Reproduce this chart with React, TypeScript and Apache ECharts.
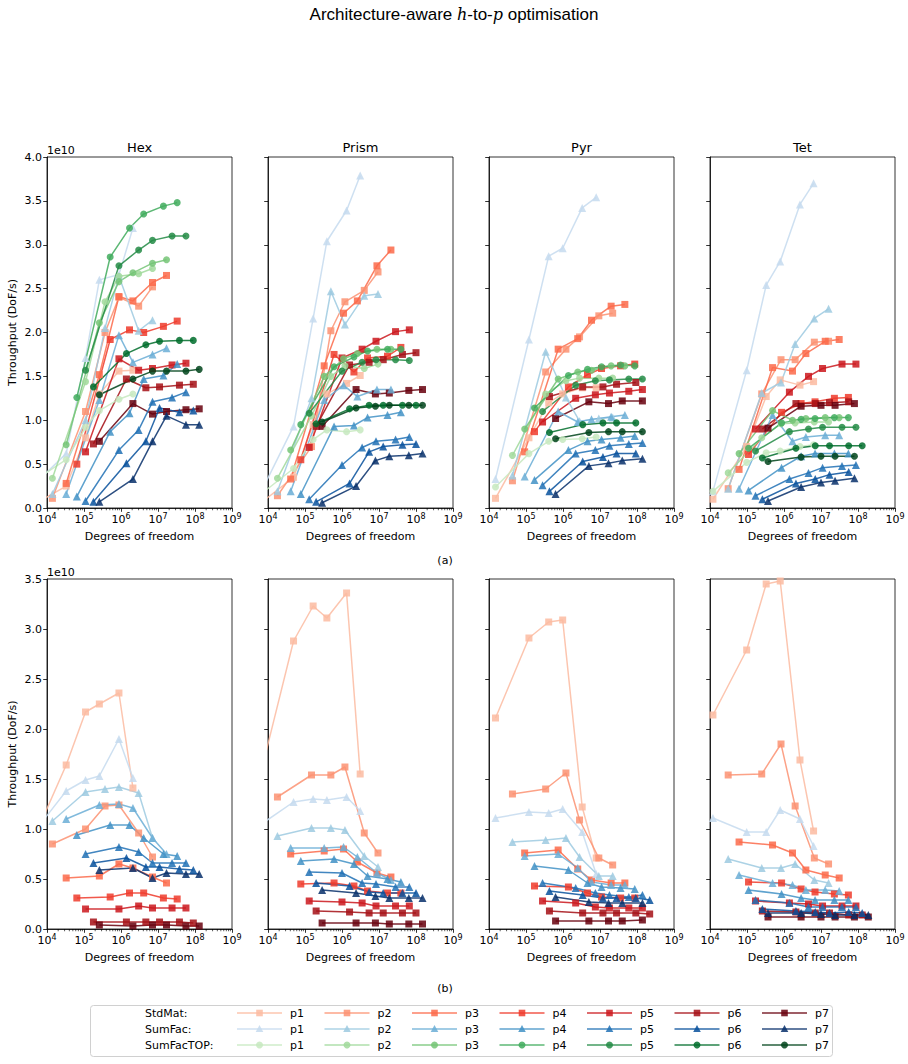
import React, { useEffect, useRef } from "react";
import * as echarts from "echarts";

// ColorBrewer sequential palettes, light (p1) to dark (p7)
const reds = ["#fcbba1", "#fc9272", "#fb6a4a", "#ef3b2c", "#cb181d", "#a50f15", "#67000d"];
const blues = ["#c6dbef", "#9ecae1", "#6baed6", "#4292c6", "#2171b5", "#08519c", "#08306b"];
const greens = ["#c7e9c0", "#a1d99b", "#74c476", "#41ab5d", "#238b45", "#006d2c", "#00441b"];

const panelNames = ["Hex", "Prism", "Pyr", "Tet"];
const schemeNames = ["StdMat:", "SumFac:", "SumFacTOP:"];
const orderNames = ["p1", "p2", "p3", "p4", "p5", "p6", "p7"];

// Degrees of freedom of each run, one row per order p1..p7 (meshes n = 8, 16, 24, 32, 48, 64)
const hexDof = [
  [4.1e3, 3.3e4, 1.1e5, 2.6e5, 8.8e5, 2.1e6],
  [1.4e4, 1.1e5, 3.7e5, 8.8e5, 3.0e6, 7.1e6],
  [3.3e4, 2.6e5, 8.8e5, 2.1e6, 7.1e6, 1.7e7],
  [6.4e4, 5.1e5, 1.7e6, 4.1e6, 1.4e7, 3.3e7],
  [1.1e5, 8.8e5, 3.0e6, 7.1e6, 2.4e7, 5.7e7],
  [1.8e5, 1.4e6, 4.7e6, 1.1e7, 3.8e7, 9.0e7],
  [2.6e5, 2.1e6, 7.1e6, 1.7e7, 5.7e7, 1.3e8],
];
const prismDof = [
  [6.1e3, 4.9e4, 1.66e5, 3.9e5, 1.33e6, 3.1e6],
  [1.8e4, 1.5e5, 5.0e5, 1.2e6, 4.0e6, 9.4e6],
  [4.1e4, 3.3e5, 1.1e6, 2.6e6, 8.8e6, 2.1e7],
  [7.7e4, 6.1e5, 2.1e6, 4.9e6, 1.7e7, 3.9e7],
  [1.3e5, 1.0e6, 3.5e6, 8.3e6, 2.8e7, 6.6e7],
  [2.0e5, 1.6e6, 5.4e6, 1.3e7, 4.3e7, 1.0e8],
  [2.9e5, 2.4e6, 8.0e6, 1.9e7, 6.4e7, 1.5e8],
];
const pyrDof = [
  [1.5e4, 1.2e5, 4.1e5, 9.8e5, 3.3e6, 7.9e6],
  [4.3e4, 3.4e5, 1.2e6, 2.8e6, 9.3e6, 2.2e7],
  [9.2e4, 7.4e5, 2.5e6, 5.9e6, 2.0e7, 4.7e7],
  [1.7e5, 1.4e6, 4.6e6, 1.1e7, 3.6e7, 8.7e7],
  [2.8e5, 2.2e6, 7.5e6, 1.8e7, 6.0e7, 1.4e8],
  [4.3e5, 3.4e6, 1.2e7, 2.8e7, 9.3e7, 2.2e8],
  [6.3e5, 5.0e6, 1.7e7, 4.0e7, 1.4e8, 3.2e8],
];
const tetDof = [
  [1.2e4, 9.8e4, 3.3e5, 7.9e5, 2.7e6, 6.3e6],
  [3.1e4, 2.5e5, 8.3e5, 2.0e6, 6.6e6, 1.6e7],
  [6.1e4, 4.9e5, 1.7e6, 3.9e6, 1.3e7, 3.1e7],
  [1.1e5, 8.6e5, 2.9e6, 6.9e6, 2.3e7, 5.5e7],
  [1.7e5, 1.4e6, 4.6e6, 1.1e7, 3.7e7, 8.8e7],
  [2.6e5, 2.1e6, 7.0e6, 1.7e7, 5.6e7, 1.3e8],
  [3.7e5, 2.9e6, 1.0e7, 2.4e7, 8.0e7, 1.9e8],
];

// (a) throughput, units of 1e10 DoF/s
const hexTopStdMat = [
  [0.03, 0.25, 0.8, 1.3, 1.56, 1.57],
  [0.11, 1.1, 2.0, 2.4, 2.3, 2.52],
  [0.28, 1.52, 2.41, 2.36, 2.57, 2.65],
  [0.5, 1.92, 2.03, 2.0, 2.07, 2.13],
  [0.64, 1.7, 1.57, 1.59, 1.63, 1.65],
  [0.73, 1.47, 1.37, 1.38, 1.4, 1.41],
  [0.76, 1.19, 1.07, 1.1, 1.12, 1.13],
];
const hexTopSumFac = [
  [0.25, 0.62, 1.71, 2.6, 2.66, 3.19],
  [0.16, 1.0, 2.05, 2.64, 2.02, 2.14],
  [0.16, 1.23, 1.97, 1.66, 1.75, 1.82],
  [0.13, 0.87, 1.08, 1.47, 1.51, 1.64],
  [0.08, 0.66, 0.89, 1.21, 1.26, 1.32],
  [0.07, 0.51, 0.76, 1.14, 1.09, 1.11],
  [0.07, 0.33, 0.76, 1.05, 0.95, 0.95],
];
const hexTopSumFacTop = [
  [0.3, 0.55, 0.92, 1.11, 1.24, 1.3],
  [0.34, 1.44, 2.35, 2.64, 2.67, 2.73],
  [0.72, 2.11, 2.58, 2.68, 2.79, 2.83],
  [1.26, 2.86, 3.19, 3.35, 3.44, 3.48],
  [1.57, 2.76, 2.94, 3.05, 3.1, 3.1],
  [1.38, 1.76, 1.86, 1.9, 1.91, 1.91],
  [1.29, 1.47, 1.56, 1.56, 1.56, 1.58],
];
const prismTopStdMat = [
  [0.05, 0.35, 0.95, 1.3, 1.42, 1.51],
  [0.14, 0.7, 2.02, 2.35, 2.48, 2.69],
  [0.33, 1.62, 2.22, 2.36, 2.76, 2.94],
  [0.55, 1.75, 1.55, 1.71, 1.73, 1.83],
  [0.69, 1.71, 1.81, 1.9, 2.01, 2.03],
  [0.93, 1.63, 1.66, 1.69, 1.75, 1.77],
  [0.93, 1.35, 1.3, 1.31, 1.34, 1.35],
];
const prismTopSumFac = [
  [0.16, 0.93, 2.16, 3.04, 3.39, 3.79],
  [0.19, 1.25, 2.47, 2.09, 2.42, 2.44],
  [0.19, 1.23, 1.4, 1.27, 1.35, 1.35],
  [0.16, 0.93, 0.94, 1.03, 1.06, 1.09],
  [0.1, 0.49, 0.69, 0.76, 0.78, 0.81],
  [0.07, 0.28, 0.64, 0.7, 0.72, 0.73],
  [0.06, 0.25, 0.54, 0.59, 0.6, 0.62],
];
const prismTopSumFacTop = [
  [0.15, 0.45, 0.78, 0.89, 0.87, 0.89],
  [0.34, 1.05, 1.5, 1.62, 1.59, 1.64],
  [0.66, 1.5, 1.7, 1.76, 1.81, 1.81],
  [0.95, 1.61, 1.72, 1.79, 1.81, 1.81],
  [1.08, 1.56, 1.66, 1.69, 1.69, 1.68],
  [0.96, 1.13, 1.17, 1.17, 1.17, 1.17],
  [0.98, 1.14, 1.16, 1.17, 1.17, 1.17],
];
const pyrTopStdMat = [
  [0.11, 0.8, 1.2, 1.3, 1.37, 1.37],
  [0.31, 1.55, 1.81, 1.95, 2.19, 2.22],
  [0.64, 1.81, 1.93, 2.14, 2.3, 2.32],
  [0.87, 1.38, 1.52, 1.59, 1.62, 1.64],
  [0.98, 1.25, 1.29, 1.31, 1.33, 1.35],
  [1.27, 1.38, 1.38, 1.41, 1.43],
  [1.02, 1.21, 1.19, 1.22, 1.22],
];
const pyrTopSumFac = [
  [0.33, 1.92, 2.87, 2.96, 3.42, 3.54],
  [0.37, 1.78, 1.26, 0.99, 1.02, 1.03],
  [0.36, 1.1, 0.98, 1.01, 1.04, 1.06],
  [0.32, 0.66, 0.76, 0.78, 0.8, 0.82],
  [0.26, 0.62, 0.66, 0.71, 0.73, 0.74],
  [0.19, 0.53, 0.58, 0.62, 0.62],
  [0.16, 0.48, 0.51, 0.54, 0.56],
];
const pyrTopSumFacTop = [
  [0.24, 0.62, 0.76, 0.78, 0.79, 0.81],
  [0.6, 1.3, 1.45, 1.48, 1.48, 1.48],
  [0.9, 1.47, 1.55, 1.57, 1.62, 1.62],
  [1.14, 1.51, 1.58, 1.61, 1.63, 1.62],
  [1.1, 1.4, 1.45, 1.46, 1.47, 1.47],
  [0.86, 0.95, 0.97, 0.97, 0.97],
  [0.79, 0.86, 0.87, 0.87, 0.87],
];
const tetTopStdMat = [
  [0.1, 0.7, 1.27, 1.46, 1.4, 1.44],
  [0.22, 1.3, 1.69, 1.69, 1.89, 1.9],
  [0.44, 1.6, 1.56, 1.76, 1.9, 1.92],
  [0.61, 1.09, 1.19, 1.21, 1.25, 1.26],
  [0.9, 1.32, 1.5, 1.59, 1.64, 1.64],
  [0.9, 1.19, 1.19, 1.2, 1.21],
  [0.91, 1.16, 1.17, 1.17, 1.19],
];
const tetTopSumFac = [
  [0.19, 1.57, 2.54, 2.81, 3.46, 3.7],
  [0.22, 1.31, 1.43, 1.87, 2.16, 2.27],
  [0.22, 1.06, 0.76, 0.81, 0.83, 0.83],
  [0.2, 0.46, 0.59, 0.62, 0.62, 0.62],
  [0.14, 0.33, 0.4, 0.46, 0.48, 0.49],
  [0.1, 0.28, 0.33, 0.38, 0.41],
  [0.08, 0.24, 0.29, 0.31, 0.34],
];
const tetTopSumFacTop = [
  [0.19, 0.52, 0.63, 0.65, 0.7, 0.72],
  [0.4, 0.8, 0.96, 0.97, 0.98, 0.98],
  [0.62, 1.11, 1.0, 1.02, 1.03, 1.03],
  [0.68, 0.97, 1.01, 1.02, 1.03, 1.03],
  [0.65, 0.87, 0.9, 0.92, 0.92, 0.92],
  [0.57, 0.68, 0.71, 0.71, 0.71, 0.71],
  [0.53, 0.58, 0.59, 0.59, 0.59],
];

// (b) throughput, units of 1e10 DoF/s
const hexBotStdMat = [
  [0.88, 1.64, 2.17, 2.25, 2.36, 1.41],
  [0.85, 1.0, 1.23, 1.24, 0.96, 0.72],
  [0.51, 0.53, 0.65, 0.61, 0.52, 0.46],
  [0.31, 0.32, 0.36, 0.36, 0.31, 0.3],
  [0.2, 0.2, 0.23, 0.21, 0.21, 0.21],
  [0.07, 0.07, 0.07, 0.07, 0.07, 0.06],
  [0.04, 0.03, 0.04, 0.04, 0.03, 0.03],
];
const hexBotSumFac = [
  [0.95, 1.38, 1.49, 1.53, 1.9, 1.51],
  [1.08, 1.37, 1.4, 1.42, 1.36, 0.91],
  [1.1, 1.24, 1.25, 1.21, 0.91, 0.75],
  [0.94, 1.04, 1.04, 0.91, 0.75, 0.73],
  [0.75, 0.82, 0.77, 0.66, 0.66, 0.66],
  [0.66, 0.71, 0.62, 0.62, 0.6, 0.59],
  [0.59, 0.61, 0.51, 0.56, 0.55, 0.55],
];
const prismBotStdMat = [
  [1.53, 2.88, 3.23, 3.11, 3.36, 1.55],
  [1.32, 1.54, 1.54, 1.62, 0.96, 0.76],
  [0.75, 0.78, 0.8, 0.67, 0.56, 0.52],
  [0.45, 0.46, 0.43, 0.38, 0.36, 0.36],
  [0.28, 0.27, 0.26, 0.23, 0.23, 0.23],
  [0.18, 0.17, 0.16, 0.16, 0.16, 0.16],
  [0.06, 0.06, 0.06, 0.05, 0.05, 0.05],
];
const prismBotSumFac = [
  [1.04, 1.27, 1.3, 1.29, 1.32, 1.18],
  [0.93, 1.01, 1.01, 0.99, 0.73, 0.62],
  [0.81, 0.81, 0.82, 0.72, 0.56, 0.49],
  [0.68, 0.7, 0.65, 0.53, 0.5, 0.47],
  [0.57, 0.56, 0.46, 0.45, 0.42, 0.42],
  [0.46, 0.43, 0.37, 0.36, 0.36, 0.36],
  [0.39, 0.36, 0.33, 0.31, 0.31, 0.31],
];
const pyrBotStdMat = [
  [2.11, 2.91, 3.07, 3.09, 1.22, 0.71],
  [1.35, 1.4, 1.56, 1.09, 0.71, 0.64],
  [0.76, 0.79, 0.6, 0.49, 0.46, 0.46],
  [0.43, 0.42, 0.36, 0.32, 0.31, 0.31],
  [0.28, 0.26, 0.22, 0.21, 0.21, 0.21],
  [0.18, 0.16, 0.16, 0.16, 0.16, 0.15],
  [0.08, 0.08, 0.08, 0.08, 0.09],
];
const pyrBotSumFac = [
  [1.11, 1.17, 1.16, 1.2, 0.97, 0.55],
  [0.87, 0.89, 0.91, 0.72, 0.53, 0.53],
  [0.73, 0.75, 0.61, 0.47, 0.44, 0.44],
  [0.63, 0.59, 0.46, 0.42, 0.41, 0.4],
  [0.46, 0.41, 0.36, 0.34, 0.32, 0.34],
  [0.38, 0.34, 0.31, 0.31, 0.31, 0.29],
  [0.32, 0.27, 0.26, 0.26, 0.26],
];
const tetBotStdMat = [
  [2.14, 2.79, 3.45, 3.48, 1.69, 0.98],
  [1.54, 1.55, 1.85, 1.23, 0.71, 0.65],
  [0.87, 0.84, 0.76, 0.59, 0.54, 0.51],
  [0.47, 0.46, 0.4, 0.37, 0.35, 0.34],
  [0.28, 0.26, 0.25, 0.23, 0.23, 0.23],
  [0.18, 0.17, 0.16, 0.16, 0.14, 0.14],
  [0.12, 0.12, 0.12, 0.12, 0.12, 0.12],
];
const tetBotSumFac = [
  [1.11, 0.97, 0.97, 1.19, 1.1, 0.83],
  [0.7, 0.61, 0.61, 0.65, 0.49, 0.46],
  [0.54, 0.46, 0.44, 0.39, 0.39, 0.38],
  [0.39, 0.35, 0.31, 0.29, 0.29, 0.29],
  [0.29, 0.26, 0.22, 0.22, 0.22, 0.22],
  [0.2, 0.18, 0.17, 0.16, 0.17, 0.16],
  [0.16, 0.16, 0.15, 0.14, 0.14, 0.14],
];

// Log-axis minor tick positions
const minorMultipliers = [2, 3, 4, 5, 6, 7, 8, 9];
const minorDecades = [1e4, 1e5, 1e6, 1e7, 1e8];

const FONT = "'DejaVu Sans', sans-serif";
const INK = "#000";
const gridLefts = [47, 268, 489, 710];
const gridWidth = 185;
const rows = [
  { top: 157, height: 351, max: 4 },
  { top: 579, height: 350, max: 3.5 },
];
const palettes = [reds, blues, greens];
const markerShapes = ["rect", "triangle", "circle"];
const markerSizes = [7, 8, 7];
const ALPHA = 0.85;

// "10" with a raised exponent, as rich text
function powerLabel(v: number) {
  const e = Math.round(Math.log10(v));
  return `{b|10}{s|${e}}`;
}

function buildOption() {
  const dofs = [hexDof, prismDof, pyrDof, tetDof];
  const topSets = [
    [hexTopStdMat, hexTopSumFac, hexTopSumFacTop],
    [prismTopStdMat, prismTopSumFac, prismTopSumFacTop],
    [pyrTopStdMat, pyrTopSumFac, pyrTopSumFacTop],
    [tetTopStdMat, tetTopSumFac, tetTopSumFacTop],
  ];
  const bottomSets = [
    [hexBotStdMat, hexBotSumFac],
    [prismBotStdMat, prismBotSumFac],
    [pyrBotStdMat, pyrBotSumFac],
    [tetBotStdMat, tetBotSumFac],
  ];
  const minorTicks: number[][] = [];
  minorDecades.forEach((d) => minorMultipliers.forEach((m) => minorTicks.push([m * d, 0])));

  const grid: any[] = [];
  const xAxis: any[] = [];
  const yAxis: any[] = [];
  const series: any[] = [];

  rows.forEach((row, r) => {
    gridLefts.forEach((left, c) => {
      const gi = r * 4 + c;
      grid.push({
        left,
        top: row.top,
        width: gridWidth,
        height: row.height,
        show: true,
        borderColor: INK,
        borderWidth: 0.8,
        backgroundColor: "#fff",
      });
      xAxis.push({
        type: "log",
        logBase: 10,
        gridIndex: gi,
        min: 1e4,
        max: 1e9,
        splitNumber: 5,
        name: "Degrees of freedom",
        nameLocation: "middle",
        nameGap: 23,
        nameTextStyle: { fontFamily: FONT, fontSize: 11, color: INK },
        axisLine: { show: true, onZero: false, lineStyle: { color: INK, width: 0.8 } },
        axisTick: { show: true, length: 3.8, lineStyle: { color: INK, width: 0.8 } },
        axisLabel: {
          show: true,
          margin: 4,
          fontFamily: FONT,
          fontSize: 11,
          color: INK,
          formatter: (v: number) => powerLabel(v),
          rich: {
            b: { fontFamily: FONT, fontSize: 11, color: INK },
            s: { fontFamily: FONT, fontSize: 8, color: INK, padding: [0, 0, 6, 0] },
          },
        },
        splitLine: { show: false },
        minorTick: { show: false },
      });
      yAxis.push({
        type: "value",
        gridIndex: gi,
        min: 0,
        max: row.max,
        interval: 0.5,
        name: c === 0 ? "Throughput (DoF/s)" : "",
        nameLocation: "middle",
        nameRotate: 90,
        nameGap: 29,
        nameTextStyle: { fontFamily: FONT, fontSize: 11, color: INK },
        axisLine: { show: true, lineStyle: { color: INK, width: 0.8 } },
        axisTick: { show: true, length: 3.8, lineStyle: { color: INK, width: 0.8 } },
        axisLabel: {
          show: c === 0,
          margin: 5,
          fontFamily: FONT,
          fontSize: 11,
          color: INK,
          formatter: (v: number) => v.toFixed(1),
        },
        splitLine: { show: false },
      });

      const sets = r === 0 ? topSets[c] : bottomSets[c];
      sets.forEach((scheme, s) => {
        scheme.forEach((vals, p) => {
          series.push({
            type: "line",
            name: `${schemeNames[s]} ${orderNames[p]}`,
            xAxisIndex: gi,
            yAxisIndex: gi,
            data: vals.map((v, i) => [dofs[c][p][i], v]),
            symbol: markerShapes[s],
            symbolSize: markerSizes[s],
            showSymbol: true,
            clip: true,
            lineStyle: { color: palettes[s][p], width: 1.5, opacity: ALPHA },
            itemStyle: { color: palettes[s][p], opacity: ALPHA, borderWidth: 0 },
            emphasis: { disabled: true },
            silent: true,
          });
        });
      });

      series.push({
        type: "scatter",
        xAxisIndex: gi,
        yAxisIndex: gi,
        data: minorTicks,
        symbol: "rect",
        symbolSize: [0.8, 2.2],
        symbolOffset: [0, 1.1],
        itemStyle: { color: INK },
        clip: false,
        silent: true,
        z: 5,
      });
    });
  });

  const graphics: any[] = [];
  // figure title
  graphics.push({
    type: "text",
    x: 454,
    y: 14,
    style: {
      text: "{a|Architecture-aware }{i|h}{a|-to-}{i|p}{a| optimisation}",
      align: "center",
      verticalAlign: "middle",
      rich: {
        a: { fontFamily: "'Liberation Sans Narrow', 'Liberation Sans', sans-serif", fontSize: 17, fill: INK },
        i: { fontFamily: "'DejaVu Serif', serif", fontStyle: "italic", fontSize: 16, fill: INK },
      },
    },
  });
  // panel titles
  panelNames.forEach((name, c) => {
    graphics.push({
      type: "text",
      x: gridLefts[c] + gridWidth / 2,
      y: 147,
      style: { text: name, align: "center", verticalAlign: "middle", fontFamily: FONT, fontSize: 13, fill: INK },
    });
  });
  // y offset texts and sub-figure captions
  [150, 572].forEach((y) => {
    graphics.push({
      type: "text",
      x: 47,
      y,
      style: { text: "1e10", align: "left", verticalAlign: "middle", fontFamily: FONT, fontSize: 11, fill: INK },
    });
  });
  [["(a)", 560], ["(b)", 988]].forEach(([t, y]) => {
    graphics.push({
      type: "text",
      x: 445,
      y: y as number,
      style: { text: t as string, align: "center", verticalAlign: "middle", fontFamily: FONT, fontSize: 11, fill: INK },
    });
  });

  // legend box
  graphics.push({
    type: "rect",
    shape: { x: 90.5, y: 1005.5, width: 742, height: 51, r: 3 },
    style: { fill: "#fff", stroke: "#d0d0d0", lineWidth: 1 },
    z: 10,
  });
  const rowY = [1013, 1029, 1045];
  schemeNames.forEach((label, s) => {
    const y = rowY[s];
    graphics.push({
      type: "text",
      x: 145,
      y,
      z: 11,
      style: { text: label, align: "left", verticalAlign: "middle", fontFamily: FONT, fontSize: 11, fill: INK },
    });
    orderNames.forEach((p, k) => {
      const x1 = 237 + 87.5 * k;
      const col = palettes[s][k];
      graphics.push({
        type: "line",
        z: 11,
        shape: { x1, y1: y, x2: x1 + 45, y2: y },
        style: { stroke: col, lineWidth: 1.5, opacity: ALPHA },
      });
      const cx = x1 + 22.5;
      if (s === 0) {
        graphics.push({ type: "rect", z: 12, shape: { x: cx - 3.3, y: y - 3.3, width: 6.6, height: 6.6 }, style: { fill: col, opacity: ALPHA } });
      } else if (s === 1) {
        graphics.push({
          type: "polygon",
          z: 12,
          shape: { points: [[cx, y - 4], [cx + 3.8, y + 3], [cx - 3.8, y + 3]] },
          style: { fill: col, opacity: ALPHA },
        });
      } else {
        graphics.push({ type: "circle", z: 12, shape: { cx, cy: y, r: 3.5 }, style: { fill: col, opacity: ALPHA } });
      }
      graphics.push({
        type: "text",
        x: x1 + 53,
        y,
        z: 11,
        style: { text: p, align: "left", verticalAlign: "middle", fontFamily: FONT, fontSize: 11, fill: INK },
      });
    });
  });

  return {
    animation: false,
    backgroundColor: "#fff",
    textStyle: { fontFamily: FONT },
    grid,
    xAxis,
    yAxis,
    series,
    graphic: graphics,
  };
}

export default function App() {
  const ref = useRef<HTMLDivElement>(null);
  useEffect(() => {
    if (!ref.current) return;
    const chart = echarts.init(ref.current, undefined, { renderer: "svg" });
    chart.setOption(buildOption() as any);
    return () => chart.dispose();
  }, []);
  return (
    <div
      ref={ref}
      style={{ position: "fixed", left: 0, top: 0, width: 908, height: 1064, background: "#fff" }}
    />
  );
}
